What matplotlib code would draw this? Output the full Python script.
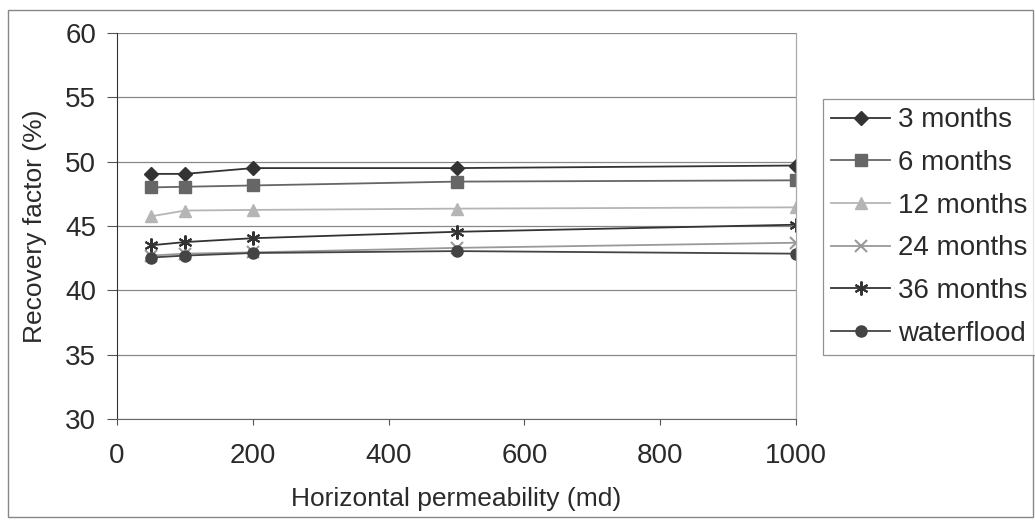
import matplotlib
matplotlib.use("Agg")
import matplotlib.pyplot as plt
from matplotlib.patches import Rectangle

plt.rcParams['font.family'] = ['Liberation Sans', 'DejaVu Sans']

perm = [50, 100, 200, 500, 1000]
months3 = [49.05, 49.05, 49.5, 49.5, 49.7]
months6 = [48.0, 48.05, 48.15, 48.45, 48.55]
months12 = [45.75, 46.2, 46.25, 46.35, 46.45]
months24 = [42.7, 42.85, 42.95, 43.3, 43.7]
months36 = [43.5, 43.75, 44.05, 44.55, 45.1]
waterflood = [42.55, 42.7, 42.9, 43.05, 42.85]

series = [
    ("3 months", months3, "#333333", "D", 7),
    ("6 months", months6, "#666666", "s", 8),
    ("12 months", months12, "#b5b5b5", "^", 8),
    ("24 months", months24, "#999999", "x", 9),
    ("36 months", months36, "#333333", (6, 2, 0), 10),
    ("waterflood", waterflood, "#444444", "o", 8),
]

TXT = "#2a2a2a"
fig = plt.figure(figsize=(10.35, 5.2), dpi=100)
W, H = 1035, 520
ax = fig.add_axes([117 / W, 1 - 419 / H, (796 - 117) / W, (419 - 33) / H])

for label, vals, col, mk, ms in series:
    ax.plot(perm, vals, color=col, marker=mk, markersize=ms, linewidth=1.3,
            markeredgewidth=1.5 if (mk == "x" or isinstance(mk, tuple)) else 1,
            label=label)

ax.set_xlim(0, 1000)
ax.set_ylim(30, 60)
ax.set_xticks([0, 200, 400, 600, 800, 1000])
ax.set_yticks([30, 35, 40, 45, 50, 55, 60])
ax.yaxis.grid(True, color="#888888", linewidth=0.9)
ax.set_axisbelow(True)
ax.spines["top"].set_visible(False)
ax.spines["right"].set_color("#aaaaaa")
ax.spines["right"].set_linewidth(0.9)
ax.spines["left"].set_color("#333333")
ax.spines["bottom"].set_color("#666666")
ax.tick_params(axis="both", labelsize=20, labelcolor=TXT, colors="#555555", direction="out", width=0.8)
ax.tick_params(axis="x", pad=13, length=4)
ax.tick_params(axis="y", pad=8, length=7)
ax.set_xlabel("Horizontal permeability (md)", fontsize=19, color=TXT, labelpad=13)
ax.set_ylabel("Recovery factor (%)", fontsize=19, color=TXT, labelpad=13)

leg = fig.legend(loc="upper left", bbox_to_anchor=(823 / W, 1 - 99 / H), bbox_transform=fig.transFigure,
                 fontsize=20, frameon=True, fancybox=False, edgecolor="#777777",
                 handlelength=2.1, labelspacing=0.6, borderpad=0.3, handletextpad=0.3,
                 borderaxespad=0)
leg.get_frame().set_linewidth(0.9)
for t in leg.get_texts():
    t.set_color(TXT)

fig.patches.append(Rectangle((8 / W, 3 / H), (1033 - 8) / W, (510 - 3) / H,
                             transform=fig.transFigure, fill=False, edgecolor="#888888", linewidth=1))

fig.savefig("out.png", dpi=100)
